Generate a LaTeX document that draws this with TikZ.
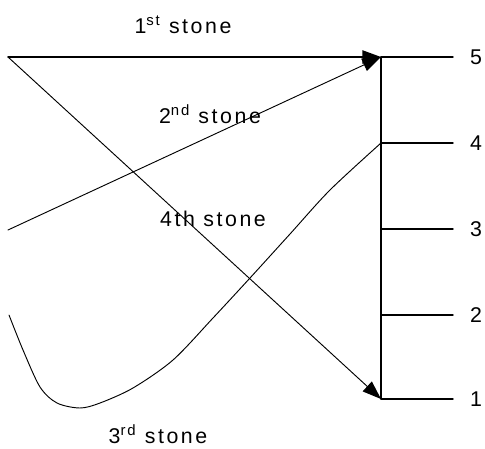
\documentclass[tikz,border=0pt]{standalone}
\usepackage{fontspec}
\setmainfont{Liberation Sans}
\usetikzlibrary{arrows.meta}
\begin{document}
\begin{tikzpicture}[x=0.75pt, y=-0.75pt, font=\fontsize{16}{19}\selectfont, line join=round, line cap=round, >={Triangle[length=14pt,width=10pt]}]
			\useasboundingbox (0,0) rectangle (485,449);
			% Diem xuat phat cua cac vien da
			\coordinate (S1) at (8,57);
			\coordinate (S2) at (8,230);
			\coordinate (S3) at (9,315);
			
			% Thang muc 1..5
			\foreach \i/\y in {1/399,2/315,3/229,4/143,5/57}{
				\coordinate (P\i) at (381,\y);
				\coordinate (E\i) at (453,\y);
				\node (n\i) at (476,\y) {\i};
				\draw[line width=1pt] (P\i)--(E\i);
			}
			\draw[line width=1pt] (P5)--(P1);
			
			% 1st stone
			\draw[->, line width=1pt] (S1)--(P5);
			% 2nd stone
			\draw[->, line width=0.7pt] (S2)--(P5);
			% 4th stone
			\draw[->, line width=0.7pt] (S1)--(P1);
			% 3rd stone: duong cong
			\draw[line width=0.7pt] plot[smooth, tension=0.5] coordinates {
				(S3) (23,350) (40,387) (57,403) (80,408) (100,403) (133,388)
				(173,360) (213,318) (250,278) (290,234) (330,190) (P4)};
			
			% Nhan
			\begin{scope}[font=\fontsize{16}{19}\selectfont\addfontfeature{LetterSpace=12}]
				\node (t1) at (183,25) {1\textsuperscript{st} stone};
				\node (t2) at (210,114) {2\textsuperscript{nd} stone};
				\node (t4) at (213,219) {4th stone};
				\node (t3) at (158,434) {3\textsuperscript{rd} stone};
			\end{scope}
		\end{tikzpicture}
\end{document}
